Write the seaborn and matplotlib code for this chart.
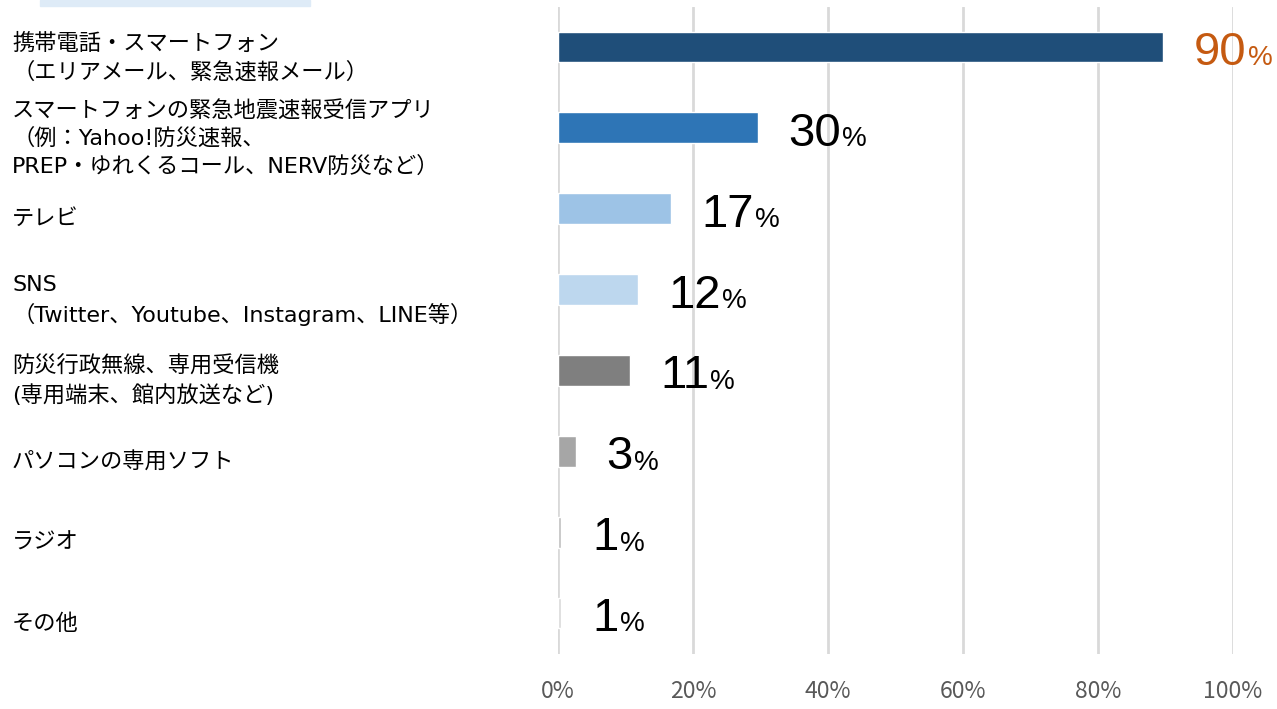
import matplotlib
matplotlib.use('Agg')
import matplotlib.pyplot as plt
import matplotlib.transforms as mtransforms
from matplotlib.patches import Rectangle
import pandas as pd
import seaborn as sns

# データ
categories = [
    '携帯電話・スマートフォン\n（エリアメール、緊急速報メール）',
    'スマートフォンの緊急地震速報受信アプリ\n（例：Yahoo!防災速報、\nPREP・ゆれくるコール、NERV防災など）',
    'テレビ',
    'SNS\n（Twitter、Youtube、Instagram、LINE等）',
    '防災行政無線、専用受信機\n(専用端末、館内放送など)',
    'パソコンの専用ソフト',
    'ラジオ',
    'その他',
]
values = [89.7, 29.6, 16.7, 11.8, 10.6, 2.6, 0.5, 0.5]
value_labels = ['90', '30', '17', '12', '11', '3', '1', '1']
bar_colors = ['#1F4E79', '#2E75B6', '#9DC3E6', '#BDD7EE', '#7F7F7F', '#A6A6A6', '#BFBFBF', '#D9D9D9']
label_colors = ['#C55A11', 'black', 'black', 'black', 'black', 'black', 'black', 'black']
x_ticks = [0, 20, 40, 60, 80, 100]

df = pd.DataFrame({'項目': categories, '割合': values})

sns.set_theme(style='white')
plt.rcParams['font.family'] = ['Noto Sans CJK JP', 'DejaVu Sans']

fig = plt.figure(figsize=(12.77, 7.09), dpi=100)
ax = fig.add_axes([558 / 1277, 1 - 653.5 / 709, 675 / 1277, 647 / 709])

sns.barplot(data=df, x='割合', y='項目', hue='項目', palette=bar_colors,
            saturation=1, legend=False, width=0.38, edgecolor='white',
            linewidth=1.0, zorder=3, ax=ax)

ax.set_xlim(0, 100)
ax.set_xticks(x_ticks)
ax.set_xticklabels([f'{t}%' for t in x_ticks], color='#595959', fontsize=16.5)
ax.tick_params(axis='x', length=0, pad=19)
ax.set_yticks([])
ax.set_xlabel('')
ax.set_ylabel('')
ax.grid(axis='x', color='#D9D9D9', linewidth=2, zorder=0)
for s in ax.spines.values():
    s.set_visible(False)

# 項目ラベル（左寄せ）
trans = mtransforms.blended_transform_factory(ax.transAxes, ax.transData)
for i, cat in enumerate(categories):
    ax.text(-546 / 675, i + 0.13, cat, transform=trans, ha='left', va='center',
            fontsize=16, linespacing=1.42, color='black',
            family=['DejaVu Sans', 'Noto Sans CJK JP'])

# 数値ラベル
for i, (v, lab, c) in enumerate(zip(values, value_labels, label_colors)):
    t = ax.annotate(lab, xy=(v, i), xytext=(22, -13), textcoords='offset points',
                    ha='left', va='baseline', fontsize=34, color=c,
                    family=['Liberation Sans', 'DejaVu Sans'])
    ax.annotate('%', xy=(1, 0), xycoords=t, xytext=(1, 7), textcoords='offset points',
                ha='left', va='baseline', fontsize=20, color=c,
                family=['Liberation Sans', 'DejaVu Sans'])

# 左上の帯
fig.patches.append(Rectangle((40 / 1277, 1 - 6 / 709), 270 / 1277, 6 / 709,
                             transform=fig.transFigure, color='#DEEBF7'))

plt.savefig('out.png', dpi=100)
